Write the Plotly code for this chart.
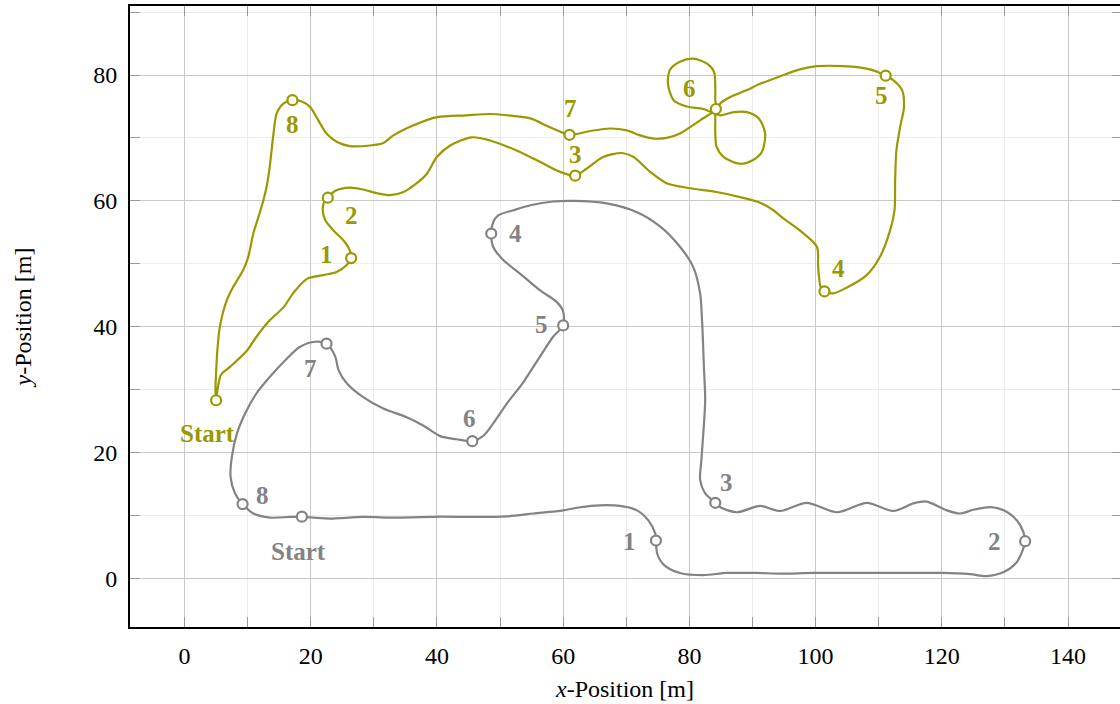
import plotly.graph_objects as go

# ---- Track of the gray vehicle (Start -> 1 -> ... -> 8 -> Start) ----
gray_x = [18.6, 20.9, 23.1, 28.3, 33.6, 40.5, 45.8, 51.1, 55.3, 60.0, 62.7, 65.8, 69.0, 71.7,
          73.5, 74.6, 74.7, 74.9, 76.0, 78.5, 82.2, 85.9, 90.7, 94.4, 99.7, 109.7, 120.0, 124.5,
          127.1, 129.8, 131.9, 132.9, 133.2, 132.9, 131.9, 129.8, 127.7, 125.0, 122.9, 120.8,
          117.6, 115.5, 112.3, 108.1, 103.4, 98.6, 94.4, 91.2, 87.5, 84.9, 84.1, 82.5, 81.7,
          81.9, 82.2, 82.5, 82.3, 82.1, 82.0, 81.7, 80.6, 78.5, 75.4, 71.7, 66.9, 61.6, 58.4,
          54.8, 52.1, 49.7, 48.9, 48.6, 48.9, 50.5, 53.2, 56.3, 59.0, 60.0, 60.0, 58.4, 56.3,
          53.7, 51.1, 48.9, 47.4, 45.6, 43.1, 40.5, 37.8, 35.2, 31.5, 28.3, 25.7, 24.4, 23.9,
          22.5, 20.7, 18.3, 16.2, 13.5, 11.4, 9.6, 8.3, 7.5, 7.3, 8.0, 9.2, 10.9, 13.5, 16.7, 18.6]
gray_y = [9.8, 9.6, 9.5, 9.75, 9.65, 9.8, 9.75, 9.85, 10.3, 10.8, 11.3, 11.6, 11.5, 10.8,
          9.2, 7.1, 6.0, 3.9, 2.1, 0.85, 0.5, 0.85, 0.85, 0.75, 0.85, 0.85, 0.85, 0.65,
          0.35, 1.0, 2.6, 4.7, 5.9, 7.4, 9.2, 10.8, 11.3, 10.9, 10.3, 10.8,
          12.2, 11.9, 10.7, 12.0, 10.5, 12.0, 10.7, 11.5, 10.5, 11.3, 12.0, 13.5, 15.6,
          18.8, 23.0, 28.3, 33.6, 38.9, 41.0, 45.3, 49.5, 52.7, 55.9, 58.2, 59.6, 60.0, 59.9,
          59.3, 58.5, 57.7, 56.6, 54.8, 52.7, 50.6, 48.4, 45.8, 43.9, 42.4, 40.2, 38.4, 35.2,
          31.2, 27.8, 24.6, 22.7, 21.8, 22.1, 22.6, 24.3, 25.6, 27.0, 28.8, 31.0, 33.1, 35.2,
          37.3, 37.6, 36.8, 34.9, 32.0, 29.4, 26.2, 23.0, 19.3, 16.1, 13.5, 11.8, 10.3, 9.65, 9.75, 9.8]

# ---- Track of the olive vehicle (Start -> 1 -> ... -> 8 -> Start) ----
olive_x = [5.0, 5.3, 5.8, 7.2, 9.9, 11.4, 13.5, 15.7, 17.2, 19.4, 22.0, 24.1, 25.7, 26.4,
           26.2, 25.2, 23.6, 22.3, 21.9, 22.1, 22.7, 23.9, 26.2, 28.3, 30.5, 32.6, 34.7, 36.8,
           38.4, 40.0, 42.1, 45.5, 48.4, 52.6, 56.3, 59.5, 61.9, 63.7, 66.4, 69.3, 71.1, 73.8,
           76.4, 80.1, 84.3, 88.0, 91.2, 93.3, 94.9, 97.5, 100.2, 100.4, 100.8, 101.4, 102.8,
           104.9, 108.1, 110.2, 111.8, 112.5, 112.6, 112.8, 113.4, 114.0, 113.7, 112.3, 111.1,
           108.6, 104.4, 100.2, 97.5, 94.4, 91.2, 89.1, 86.5, 84.9, 84.2,
           84.1, 84.1, 84.3, 85.4, 88.0, 90.1, 91.5, 92.0, 91.0, 89.1, 87.0, 84.9, 82.2,
           79.6, 77.5, 76.6, 76.9, 78.5, 80.6, 82.8, 83.9, 84.1, 84.1, 84.2,
           81.7, 78.5, 76.4, 74.3, 72.2, 70.1, 67.4, 64.3, 61.0, 57.9, 54.8, 51.1, 48.4,
           44.7, 40.0, 36.3, 33.1, 31.5, 29.4, 26.2, 24.1, 22.5, 21.2, 19.9, 18.6, 17.1,
           15.7, 14.6, 14.1, 13.5, 13.0, 12.5, 11.7, 10.9, 10.1, 9.3, 7.7, 6.7, 5.6, 5.2,
           5.0, 4.9, 5.0]
olive_y = [28.3, 30.5, 32.4, 33.6, 36.2, 38.4, 41.0, 43.1, 45.3, 47.6, 48.2, 48.7, 49.8, 50.9,
           52.1, 53.7, 55.3, 56.9, 58.5, 59.8, 60.5, 61.6, 62.1, 61.8, 61.2, 60.9, 61.4, 62.8,
           64.3, 67.0, 68.8, 70.1, 69.6, 68.0, 66.2, 64.6, 64.0, 65.1, 67.0, 67.6, 67.0, 64.6,
           62.8, 62.0, 61.4, 60.6, 59.7, 58.5, 57.2, 55.3, 52.7, 49.5, 46.3, 45.6, 45.3,
           46.2, 48.2, 51.1, 55.3, 58.5, 63.3, 68.0, 71.8, 74.9, 77.6, 79.2, 79.9,
           80.9, 81.4, 81.4, 80.9, 79.8, 78.6, 77.6, 76.5, 75.5, 74.6,
           72.5, 70.7, 68.6, 67.0, 65.9, 66.5, 67.8, 70.7, 73.1, 74.1, 74.1, 73.6, 74.6,
           75.0, 76.0, 78.6, 80.8, 82.1, 82.6, 81.8, 80.5, 78.1, 76.0, 74.6,
           72.8, 70.7, 70.0, 69.9, 70.4, 71.2, 71.5, 71.1, 70.5, 71.7, 73.1, 73.6, 73.8,
           73.6, 73.3, 72.0, 70.4, 69.2, 68.8, 68.7, 69.4, 70.7, 72.8, 74.9, 75.8, 76.0,
           75.5, 73.9, 70.7, 65.4, 62.2, 60.1, 57.4, 54.8, 51.1, 49.0, 46.3, 44.2, 40.0, 36.2,
           32.6, 29.9, 28.3]

# ---- Waypoints and their labels ----
gray_wp_x = [18.6, 74.7, 133.2, 84.1, 48.6, 60.0, 45.6, 22.5, 9.2]
gray_wp_y = [9.8, 6.0, 5.9, 12.0, 54.8, 40.2, 21.8, 37.3, 11.8]
gray_labels = ["Start", "1", "2", "3", "4", "5", "6", "7", "8"]
gray_label_x = [18.0, 70.5, 128.4, 85.8, 52.5, 56.6, 45.1, 20.0, 12.4]
gray_label_y = [4.3, 5.8, 5.8, 15.2, 54.8, 40.3, 25.4, 33.3, 13.2]

olive_wp_x = [5.0, 26.4, 22.7, 61.9, 101.4, 111.1, 84.2, 61.0, 17.1]
olive_wp_y = [28.3, 50.9, 60.5, 64.0, 45.6, 79.9, 74.6, 70.5, 76.0]
olive_labels = ["Start", "1", "2", "3", "4", "5", "6", "7", "8"]
olive_label_x = [3.6, 22.5, 26.5, 61.9, 103.7, 110.5, 80.0, 61.1, 17.1]
olive_label_y = [23.0, 51.4, 57.7, 67.4, 49.2, 76.8, 77.9, 74.7, 72.2]

x_ticks = [0, 20, 40, 60, 80, 100, 120, 140]
y_ticks = [0, 20, 40, 60, 80]

GRAY = "#838383"
OLIVE = "#999900"
FONT = "Liberation Serif, serif"

fig = go.Figure()

for px, py, col in [(gray_x, gray_y, GRAY), (olive_x, olive_y, OLIVE)]:
    fig.add_trace(go.Scatter(x=px, y=py, mode="lines",
                             line=dict(color=col, width=2.2, shape="spline", smoothing=0.8),
                             hoverinfo="skip", showlegend=False))

for wx, wy, col in [(gray_wp_x, gray_wp_y, GRAY), (olive_wp_x, olive_wp_y, OLIVE)]:
    fig.add_trace(go.Scatter(x=wx, y=wy, mode="markers",
                             marker=dict(symbol="circle", size=10, color="white",
                                         line=dict(color=col, width=2.2)),
                             hoverinfo="skip", showlegend=False))

# invisible trace that carries the mirrored right-hand y axis
fig.add_trace(go.Scatter(x=[None], y=[None], yaxis="y2", showlegend=False, hoverinfo="skip"))

annotations = []
for labels, lx, ly, col in [(gray_labels, gray_label_x, gray_label_y, GRAY),
                            (olive_labels, olive_label_x, olive_label_y, OLIVE)]:
    for t, xx, yy in zip(labels, lx, ly):
        annotations.append(dict(x=xx, y=yy, xref="x", yref="y", text="<b>%s</b>" % t,
                                showarrow=False, xanchor="center", yanchor="middle",
                                font=dict(family=FONT, size=25, color=col)))

X_RANGE = [-8.64, 148.23]
Y_RANGE = [-7.74, 90.97]

fig.update_layout(
    width=1120, height=704,
    margin=dict(l=130, r=0, t=6, b=77),
    paper_bgcolor="white", plot_bgcolor="white",
    font=dict(family=FONT, size=24, color="black"),
    annotations=annotations,
    xaxis=dict(range=X_RANGE, tickvals=x_ticks, showgrid=True, gridcolor="#c9c9c9",
               gridwidth=1, zeroline=False, showline=True, linecolor="black", linewidth=2,
               mirror="ticks", ticks="inside", ticklen=10, tickcolor="#9a9a9a", tickwidth=1,
               tickfont=dict(family=FONT, size=24), ticklabelstandoff=6,
               minor=dict(dtick=10, tick0=0, showgrid=True, gridcolor="#ededed", gridwidth=1,
                          ticks="inside", ticklen=10, tickcolor="#9a9a9a", tickwidth=1),
               title=dict(text="<i>x</i>-Position [m]",
                          font=dict(family=FONT, size=24, color="black"), standoff=12)),
    yaxis=dict(range=Y_RANGE, tickvals=y_ticks, showgrid=True, gridcolor="#c9c9c9",
               gridwidth=1, zeroline=False, showline=True, linecolor="black", linewidth=2,
               ticks="inside", ticklen=10, tickcolor="#9a9a9a", tickwidth=1,
               tickfont=dict(family=FONT, size=24), ticklabelstandoff=6,
               minor=dict(dtick=10, tick0=0, showgrid=True, gridcolor="#ededed", gridwidth=1,
                          ticks="inside", ticklen=10, tickcolor="#9a9a9a", tickwidth=1),
               title=dict(text="<i>y</i>-Position [m]",
                          font=dict(family=FONT, size=24, color="black"), standoff=55)),
    yaxis2=dict(range=Y_RANGE, overlaying="y", side="right", tickvals=y_ticks,
                showgrid=False, zeroline=False, showline=False, showticklabels=False,
                ticks="inside", ticklen=8, tickcolor="#9a9a9a", tickwidth=1,
                minor=dict(dtick=10, tick0=0, ticks="inside", ticklen=8,
                           tickcolor="#9a9a9a", tickwidth=1, showgrid=False)),
)

fig.write_html("out.html")
